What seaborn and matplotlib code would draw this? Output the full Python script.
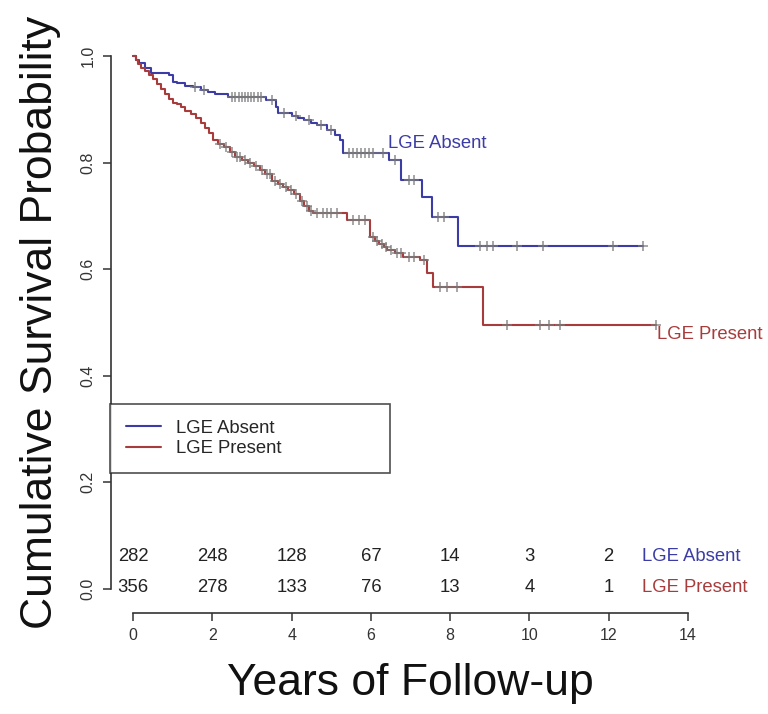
import numpy as np
import pandas as pd
import matplotlib
matplotlib.use("Agg")
import matplotlib.pyplot as plt
from matplotlib.lines import Line2D
import seaborn as sns

# Kaplan-Meier step estimates (time in years, survival probability)
absent_time = [0.0, 0.08, 0.15, 0.3, 0.45, 0.9, 1.0, 1.1, 1.3, 1.5, 1.7, 1.9, 2.07,
               2.4, 3.35, 3.6, 3.65, 4.0, 4.15, 4.3, 4.5, 4.65, 4.9, 5.1, 5.23, 5.3,
               6.45, 6.75, 7.3, 7.55, 8.2, 12.88]
absent_surv = [1.0, 0.993, 0.987, 0.978, 0.968, 0.964, 0.951, 0.949, 0.945, 0.942,
               0.937, 0.933, 0.930, 0.924, 0.917, 0.905, 0.893, 0.888, 0.884, 0.880,
               0.875, 0.871, 0.862, 0.852, 0.842, 0.818, 0.805, 0.767, 0.735, 0.698,
               0.644, 0.644]

present_time = [0.0, 0.06, 0.12, 0.2, 0.3, 0.4, 0.5, 0.6, 0.7, 0.8, 0.9, 1.0, 1.1,
                1.2, 1.32, 1.45, 1.58, 1.7, 1.82, 1.92, 2.02, 2.15, 2.3, 2.45, 2.58,
                2.75, 2.9, 3.05, 3.2, 3.33, 3.5, 3.65, 3.79, 3.92, 4.05, 4.2, 4.32,
                4.45, 4.55, 5.4, 5.98, 6.1, 6.2, 6.32, 6.41, 6.6, 6.82, 7.25, 7.42,
                7.58, 8.84, 13.2]
present_surv = [1.0, 0.993, 0.985, 0.978, 0.972, 0.965, 0.957, 0.948, 0.938, 0.929,
                0.920, 0.913, 0.910, 0.905, 0.898, 0.891, 0.884, 0.875, 0.866, 0.855,
                0.843, 0.836, 0.829, 0.820, 0.811, 0.805, 0.800, 0.794, 0.787, 0.779,
                0.765, 0.760, 0.754, 0.748, 0.742, 0.728, 0.718, 0.710, 0.705, 0.692,
                0.660, 0.654, 0.648, 0.642, 0.636, 0.630, 0.623, 0.617, 0.593, 0.567,
                0.495, 0.495]

# censored observation times
absent_censor = [1.55, 1.8, 2.5, 2.58, 2.66, 2.74, 2.82, 2.9, 2.98, 3.06, 3.14,
                 3.22, 3.5, 3.8, 4.1, 4.45, 4.75, 5.0, 5.45, 5.55, 5.65, 5.75, 5.85,
                 5.95, 6.05, 6.3, 6.6, 6.95, 7.1, 7.7, 7.85, 8.76, 8.93, 9.09, 9.7,
                 10.35, 12.12, 12.88]
present_censor = [2.2, 2.35, 2.5, 2.62, 2.7, 2.82, 2.95, 3.1, 3.25, 3.38, 3.45,
                  3.58, 3.7, 3.85, 3.98, 4.1, 4.25, 4.38, 4.5, 4.65, 4.78, 4.9, 5.0,
                  5.15, 5.55, 5.7, 5.85, 6.05, 6.15, 6.27, 6.37, 6.5, 6.65, 6.75,
                  6.95, 7.1, 7.35, 7.75, 7.93, 8.18, 9.44, 10.28, 10.5, 10.78, 13.2]

# numbers at risk
risk_times = [0, 2, 4, 6, 8, 10, 12]
absent_risk = [282, 248, 128, 67, 14, 3, 2]
present_risk = [356, 278, 133, 76, 13, 4, 1]

groups = ["LGE Absent", "LGE Present"]
blue = "#3c3ca6"
red = "#a83c3c"
palette = {"LGE Absent": blue, "LGE Present": red}

sns.set_theme(style="white")
plt.rcParams["font.family"] = ["Liberation Sans", "DejaVu Sans"]

curves = pd.concat([
    pd.DataFrame({"t": absent_time, "s": absent_surv, "group": groups[0]}),
    pd.DataFrame({"t": present_time, "s": present_surv, "group": groups[1]}),
], ignore_index=True)


def surv_at(times, surv, c):
    idx = np.searchsorted(times, c, side="right") - 1
    return np.asarray(surv)[idx]


marks = pd.concat([
    pd.DataFrame({"t": absent_censor,
                  "s": surv_at(absent_time, absent_surv, absent_censor),
                  "group": groups[0]}),
    pd.DataFrame({"t": present_censor,
                  "s": surv_at(present_time, present_surv, present_censor),
                  "group": groups[1]}),
], ignore_index=True)

fig = plt.figure(figsize=(7.68, 7.14), dpi=100)
ax = fig.add_axes([111 / 768, 1 - 610 / 714, 599 / 768, 575 / 714])

sns.lineplot(data=curves, x="t", y="s", hue="group", palette=palette,
             drawstyle="steps-post", estimator=None, sort=False,
             linewidth=1.5, legend=False, ax=ax)
ax.plot(marks["t"], marks["s"], linestyle="none", marker="+", markersize=7,
        markeredgewidth=1.1, color="#7a7a7a", alpha=0.85)

ax.set_xlim(-0.56, 14.56)
ax.set_ylim(-0.04, 1.04)

# R-style detached axes
for side in ("top", "right"):
    ax.spines[side].set_visible(False)
ax.spines["left"].set_bounds(0, 1)
ax.spines["bottom"].set_bounds(0, 14)
ax.spines["bottom"].set_position(("outward", 2))
for side in ("left", "bottom"):
    ax.spines[side].set_color("#333333")
    ax.spines[side].set_linewidth(1.2)

ax.set_xticks(range(0, 15, 2))
ax.set_yticks([0.0, 0.2, 0.4, 0.6, 0.8, 1.0])
ax.set_yticklabels(["0.0", "0.2", "0.4", "0.6", "0.8", "1.0"], rotation=90, va="center")
ax.tick_params(axis="both", direction="out", length=6, width=1.1, color="#333333",
               labelsize=11.5, labelcolor="#333333", pad=5, left=True, bottom=True)

ax.set_xlabel("Years of Follow-up", fontsize=32, labelpad=14, color="#111111")
ax.set_ylabel("Cumulative Survival Probability", fontsize=32, labelpad=14, color="#111111")

# curve labels
ax.text(6.44, 0.837, "LGE Absent", color=blue, fontsize=13.3, ha="left", va="center")
ax.text(13.23, 0.477, "LGE Present", color=red, fontsize=13.3, ha="left", va="center")

# number-at-risk table
for t, a, p in zip(risk_times, absent_risk, present_risk):
    ax.text(t, 0.060, str(a), fontsize=13.3, ha="center", va="center", color="#222222")
    ax.text(t, 0.002, str(p), fontsize=13.3, ha="center", va="center", color="#222222")
ax.text(12.85, 0.060, groups[0], fontsize=13.3, ha="left", va="center", color=blue)
ax.text(12.85, 0.002, groups[1], fontsize=13.3, ha="left", va="center", color=red)

handles = [Line2D([], [], color=palette[g], linewidth=1.5) for g in groups]
leg = ax.legend(handles, groups, loc="center left", mode="expand",
                bbox_to_anchor=(-0.002, 0.298, 0.468, 0.0),
                fontsize=13.3, frameon=True, fancybox=False, borderaxespad=0,
                borderpad=0.85, labelspacing=0.2, handlelength=1.9,
                handletextpad=0.85)
leg.get_frame().set_edgecolor("#222222")
leg.get_frame().set_linewidth(1.2)

fig.savefig("out.png", dpi=100, facecolor="white")
